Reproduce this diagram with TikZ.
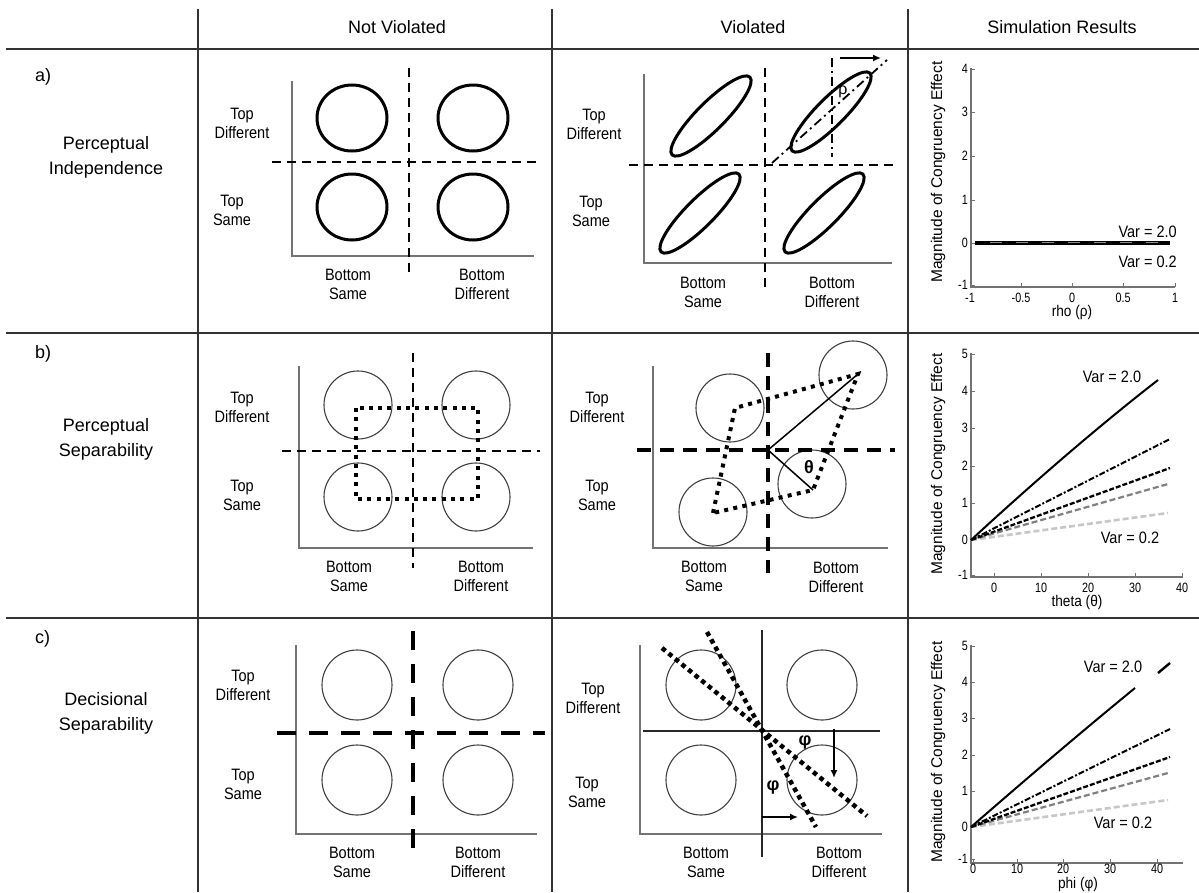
\documentclass[tikz,border=0pt]{standalone}
\usepackage{fontspec}
\setmainfont{Liberation Sans}
\newfontfamily\nar[FakeStretch=0.88]{Liberation Sans}
\newfontfamily\narr[FakeStretch=0.8]{Liberation Sans}
\usetikzlibrary{arrows.meta}
\begin{document}
\begin{tikzpicture}[x=1pt,y=-1pt,
  gridline/.style={draw=black!80,line width=1.6pt},
  plotaxis/.style={draw=black!55,line width=1.6pt},
  bigring/.style={draw=black,line width=3pt},
  ring/.style={draw=black!75,line width=1.1pt},
  dshA/.style={draw=black,line width=2.4pt,dash pattern=on 9pt off 6pt},
  dshB/.style={draw=black,line width=2pt,dash pattern=on 9pt off 6pt},
  dshC/.style={draw=black,line width=3.2pt,dash pattern=on 14pt off 9pt},
  dshD/.style={draw=black,line width=4.5pt,dash pattern=on 19pt off 14pt},
  dotq/.style={draw=black,line width=4pt,dash pattern=on 4pt off 5.3pt},
  dashdot/.style={draw=black,line width=1.8pt,dash pattern=on 9pt off 4pt on 2pt off 4pt},
  pnl/.style={font=\nar\fontsize{16.5}{19}\selectfont,align=center,inner sep=0pt},
  hdr/.style={font=\fontsize{18}{22}\selectfont,inner sep=0pt},
  rowlab/.style={font=\fontsize{18}{25}\selectfont,align=center,inner sep=0pt},
  tkl/.style={font=\narr\fontsize{13.5}{13.5}\selectfont,inner sep=0pt},
  axt/.style={font=\nar\fontsize{15.5}{15.5}\selectfont,inner sep=0pt},
  varlab/.style={font=\nar\fontsize{16.5}{19}\selectfont,inner sep=0pt},
  maglab/.style={font=\fontsize{15.5}{18}\selectfont,rotate=90,inner sep=0pt},
  greek/.style={font=\bfseries\fontsize{18}{20}\selectfont,inner sep=0pt},
  cvA/.style={draw=black,line width=2pt},
  cvB/.style={draw=black,line width=2pt,dash pattern=on 6pt off 2pt on 2pt off 2pt},
  cvC/.style={draw=black,line width=2.3pt,dash pattern=on 5pt off 2pt},
  cvD/.style={draw=black!50,line width=2.2pt,dash pattern=on 6pt off 3pt},
  cvE/.style={draw=black!22,line width=2.6pt,dash pattern=on 6pt off 3pt}
]
\useasboundingbox (0,0) rectangle (1199,892);
\fill[white] (0,0) rectangle (1199,892);

% ---------- table ----------
\draw[gridline] (6,49) -- (1199,49);
\draw[gridline] (6,333) -- (1199,333);
\draw[gridline] (6,618) -- (1199,618);
\draw[gridline] (198,9) -- (198,892);
\draw[gridline] (552,9) -- (552,892);
\draw[gridline] (908,9) -- (908,892);

\node[hdr] (h1) at (397,27) {Not Violated};
\node[hdr] (h2) at (753,27) {Violated};
\node[hdr] (h3) at (1062,27) {Simulation Results};

\node[rowlab,anchor=west] (la) at (35,77) {a)};
\node[rowlab,anchor=west] (lb) at (35,354) {b)};
\node[rowlab,anchor=west] (lc) at (35,639) {c)};
\node[rowlab] (ra) at (106,157) {Perceptual\\Independence};
\node[rowlab] (rb) at (106,439) {Perceptual\\Separability};
\node[rowlab] (rc) at (106,713) {Decisional\\Separability};

% ---------- row a, not violated ----------
\draw[plotaxis] (292,81) -- (292,256) -- (534,256);
\foreach \cx/\cy in {352/118,473/118,352/207,473/207}
  \draw[bigring] (\cx,\cy) ellipse [x radius=35pt,y radius=33pt];
\draw[dshA] (409,68) -- (409,277);
\draw[dshA] (272,162) -- (536,162);
\node[pnl] (a1td) at (242,123) {Top\\Different};
\node[pnl] (a1ts) at (232,210) {Top\\Same};
\node[pnl] (a1bs) at (348,284) {Bottom\\Same};
\node[pnl] (a1bd) at (482,284) {Bottom\\Different};

% ---------- row a, violated ----------
\draw[plotaxis] (644,74) -- (644,263) -- (892,263);
\foreach \cx/\cy in {711/116,831/112,700/213,824/213}
  \draw[bigring,rotate around={45:(\cx,\cy)}] (\cx,\cy) ellipse [x radius=55pt,y radius=14pt];
\draw[dshA] (765,68) -- (765,290);
\draw[dshA] (629,165) -- (893,165);
\coordinate (rc0) at (772,163);
\coordinate (rc1) at (887,60);
\draw[dashdot] (rc0) -- (rc1);
\coordinate (rv0) at (832,58);
\coordinate (rv1) at (832,157);
\draw[dashdot] (rv0) -- (rv1);
\coordinate (ra0) at (840,58);
\coordinate (ra1) at (881,58);
\draw[line width=2pt,-{Latex[length=8pt,width=7pt]}] (ra0) -- (ra1);
\node[font=\fontsize{16}{18}\selectfont,inner sep=0pt] (rho) at (843,92) {ρ};
\node[pnl] (a2td) at (594,124) {Top\\Different};
\node[pnl] (a2ts) at (591,211) {Top\\Same};
\node[pnl] (a2bs) at (703,292) {Bottom\\Same};
\node[pnl] (a2bd) at (832,292) {Bottom\\Different};

% ---------- row a, simulation ----------
\draw[plotaxis] (971,68) -- (971,287) -- (1175,287);
\foreach \v/\yy in {4/69,3/112,2/156,1/200,0/243,-1/285}{
  \draw[draw=black!55,line width=.8pt] (971,\yy) -- (975,\yy);
  \node[tkl,anchor=east] at (968,\yy) {\v};}
\foreach \v/\xx in {-1/970,-0.5/1021,0/1072,0.5/1123,1/1175}{
  \draw[draw=black!55,line width=.8pt] (\xx,287) -- (\xx,283);
  \node[tkl] at (\xx,298) {\v};}
\node[axt] (xa) at (1072,312) {rho (ρ)};
\node[maglab] (ma) at (938,172) {Magnitude of Congruency Effect};
\draw[line width=3.4pt] (975,243) -- (1170,243);
\draw[draw=black!45,line width=1pt,dash pattern=on 12pt off 14pt] (990,242) -- (1165,242);
\node[varlab,anchor=east] (va1) at (1177,232) {Var = 2.0};
\node[varlab,anchor=east] (va2) at (1177,262) {Var = 0.2};

% ---------- row b, not violated ----------
\draw[plotaxis] (299,366) -- (299,548) -- (533,548);
\foreach \cx/\cy in {358/405,476/405,358/497,476/497}
  \draw[ring] (\cx,\cy) circle [radius=34pt];
\draw[dshB] (413,353) -- (413,568);
\draw[dshB] (282,451) -- (540,451);
\draw[dotq] (356,408) rectangle (478,499);
\node[pnl] (b1td) at (242,407) {Top\\Different};
\node[pnl] (b1ts) at (242,495) {Top\\Same};
\node[pnl] (b1bs) at (349,576) {Bottom\\Same};
\node[pnl] (b1bd) at (481,576) {Bottom\\Different};

% ---------- row b, violated ----------
\draw[plotaxis] (653,366) -- (653,548) -- (888,548);
\foreach \cx/\cy in {730/408,853/375,713/512,812/484}
  \draw[ring] (\cx,\cy) circle [radius=34pt];
\draw[dshC] (768,353) -- (768,573);
\draw[dshC] (637,450) -- (895,450);
\coordinate (qbl) at (713,513);
\coordinate (qtl) at (735,408);
\coordinate (qtr) at (858,374);
\coordinate (qbr) at (813,490);
\coordinate (qo) at (768,450);
\draw[dotq] (qbl) -- (qtl) -- (qtr) -- (qbr) -- cycle;
\draw[line width=1.5pt] (qo) -- (qtr);
\draw[line width=1.5pt] (qo) -- (qbr);
\node[greek] (th) at (809,467) {θ};
\node[pnl] (b2td) at (597,407) {Top\\Different};
\node[pnl] (b2ts) at (597,495) {Top\\Same};
\node[pnl] (b2bs) at (704,576) {Bottom\\Same};
\node[pnl] (b2bd) at (836,577) {Bottom\\Different};

% ---------- row b, simulation ----------
\draw[plotaxis] (971,353) -- (971,577) -- (1183,577);
\foreach \v/\yy in {5/354,4/391,3/428,2/466,1/503,0/540,-1/575}{
  \draw[draw=black!55,line width=.8pt] (971,\yy) -- (975,\yy);
  \node[tkl,anchor=east] at (968,\yy) {\v};}
\foreach \v/\xx in {0/994,10/1041,20/1088,30/1135,40/1182}{
  \draw[draw=black!55,line width=.8pt] (\xx,577) -- (\xx,573);
  \node[tkl] at (\xx,588) {\v};}
\node[axt] (xb) at (1077,602) {theta (θ)};
\node[maglab] (mb) at (938,464) {Magnitude of Congruency Effect};
\coordinate (ob) at (971,540);
\draw[cvE] (ob) -- (1168,513);
\draw[cvD] (ob) -- (1168,484);
\draw[cvC] (ob) -- (1170,468);
\draw[cvB] (ob) -- (1170,439);
\draw[cvA] (ob) .. controls (1035,481) and (1100,425) .. (1158,380);
\node[varlab] (vb1) at (1112,377) {Var = 2.0};
\node[varlab] (vb2) at (1130,538) {Var = 0.2};

% ---------- row c, not violated ----------
\draw[plotaxis] (296,645) -- (296,834) -- (537,834);
\foreach \cx/\cy in {357/685,478/685,357/780,478/780}
  \draw[ring] (\cx,\cy) circle [radius=35pt];
\draw[dshD] (413,631) -- (413,855);
\draw[draw=black,line width=4.5pt,dash pattern=on 19pt off 13pt] (277,733) -- (545,733);
\node[pnl] (c1td) at (243,685) {Top\\Different};
\node[pnl] (c1ts) at (243,784) {Top\\Same};
\node[pnl] (c1bs) at (352,862) {Bottom\\Same};
\node[pnl] (c1bd) at (478,862) {Bottom\\Different};

% ---------- row c, violated ----------
\draw[plotaxis] (640,645) -- (640,834) -- (882,834);
\foreach \cx/\cy in {701/685,822/685,701/780,822/780}
  \draw[ring] (\cx,\cy) circle [radius=35pt];
\draw[draw=black!85,line width=1.4pt] (762,630) -- (762,857);
\draw[draw=black!85,line width=1.4pt] (643,731) -- (880,731);
\coordinate (d1a) at (662,648);
\coordinate (d1b) at (867,816);
\coordinate (d2a) at (707,632);
\coordinate (d2b) at (816,827);
\draw[draw=black,line width=4.5pt,dash pattern=on 4.5pt off 4pt] (d1a) -- (d1b);
\draw[draw=black,line width=4.5pt,dash pattern=on 4.5pt off 4pt] (d2a) -- (d2b);
\coordinate (pa0) at (834,729);
\coordinate (pa1) at (834,778);
\coordinate (pb0) at (762,817);
\coordinate (pb1) at (798,817);
\draw[line width=1.8pt,-{Latex[length=8pt,width=7pt]}] (pa0) -- (pa1);
\draw[line width=1.8pt,-{Latex[length=8pt,width=7pt]}] (pb0) -- (pb1);
\node[greek] (ph1) at (805,742) {φ};
\node[greek] (ph2) at (773,787) {φ};
\node[pnl] (c2td) at (593,698) {Top\\Different};
\node[pnl] (c2ts) at (587,792) {Top\\Same};
\node[pnl] (c2bs) at (706,862) {Bottom\\Same};
\node[pnl] (c2bd) at (839,862) {Bottom\\Different};

% ---------- row c, simulation ----------
\draw[plotaxis] (971,645) -- (971,863) -- (1183,863);
\foreach \v/\yy in {5/646,4/682,3/718,2/755,1/791,0/827,-1/859}{
  \draw[draw=black!55,line width=.8pt] (971,\yy) -- (975,\yy);
  \node[tkl,anchor=east] at (968,\yy) {\v};}
\foreach \v/\xx in {0/973,10/1017,20/1063,30/1110,40/1157}{
  \draw[draw=black!55,line width=.8pt] (\xx,863) -- (\xx,859);
  \node[tkl] at (\xx,869) {\v};}
\node[axt,fill=white,inner sep=0.5pt] (xc) at (1078,884) {phi (φ)};
\node[maglab] (mc) at (938,752) {Magnitude of Congruency Effect};
\coordinate (oc) at (971,827);
\draw[cvE] (oc) -- (1168,800);
\draw[cvD] (oc) -- (1168,773);
\draw[cvC] (oc) -- (1170,757);
\draw[cvB] (oc) -- (1170,729);
\draw[cvA] (oc) .. controls (1025,780) and (1080,733) .. (1135,688);
\coordinate (sc0) at (1158,673);
\coordinate (sc1) at (1170,663);
\draw[cvA,line width=2.4pt] (sc0) -- (sc1);
\node[varlab] (vc1) at (1113,667) {Var = 2.0};
\node[varlab] (vc2) at (1123,823) {Var = 0.2};
\end{tikzpicture}
\end{document}
